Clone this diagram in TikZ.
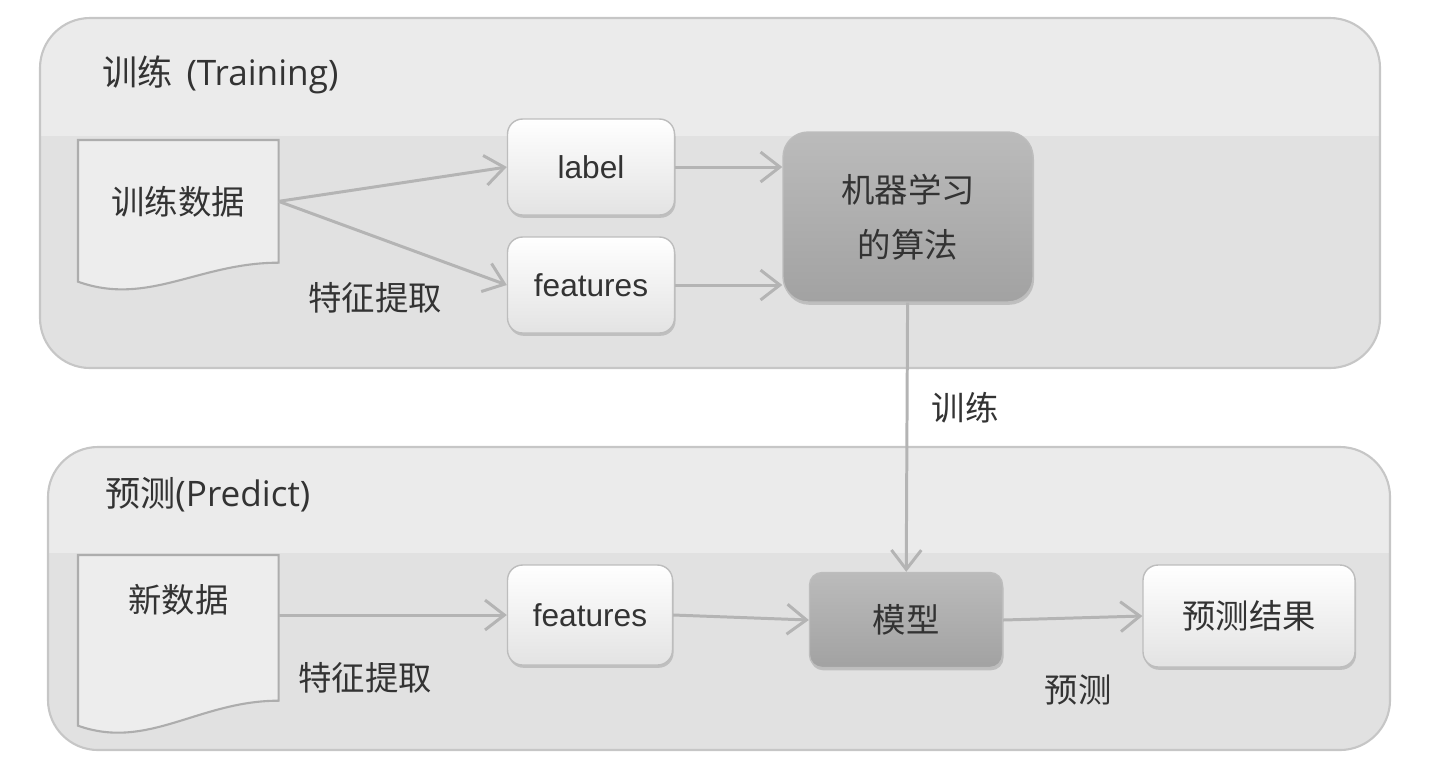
\documentclass[tikz,border=0pt]{standalone}
\usepackage{fontspec}
\setmainfont{Noto Sans CJK SC}
\newfontfamily\arialfont{Liberation Sans}
\newfontfamily\titlelatin{Open Sans}
\usepackage{xcolor}
\usepackage{tikz}
\usetikzlibrary{calc,arrows.meta,shadows}

\definecolor{panelline}{HTML}{C6C6C6}
\definecolor{panellow}{HTML}{E1E1E1}
\definecolor{panelhigh}{HTML}{EBEBEB}
\definecolor{boxline}{HTML}{BDBDBD}
\definecolor{boxlow}{HTML}{E3E3E3}
\definecolor{algotop}{HTML}{BBBBBB}
\definecolor{algobot}{HTML}{A2A2A2}
\definecolor{flowgray}{HTML}{B4B4B4}
\definecolor{textgray}{HTML}{333333}
\definecolor{docfill}{HTML}{EDEDED}
\definecolor{docline}{HTML}{ADADAD}

\pgfdeclarelayer{back}
\pgfdeclarelayer{mid}
\pgfsetlayers{back,mid,main}

\tikzset{
  cjk/.style={font=\fontsize{19}{31}\selectfont, text=textgray},
  titletext/.style={font=\fontsize{20}{24}\selectfont, text=textgray},
  panel/.style={draw=panelline, line width=1.2pt, rounded corners=1cm},
  doctext/.style={cjk, inner sep=0pt, text width=4cm, align=center},
  docline/.style={draw=docline, fill=docfill, line width=1.2pt},
  whitebox/.style={draw=boxline, line width=0.8pt, rounded corners=0.3cm,
    top color=white, bottom color=boxlow, minimum width=3.34cm, minimum height=1.92cm,
    drop shadow={shadow xshift=0.6pt, shadow yshift=-1.6pt, opacity=0.35}},
  graybox/.style={draw=boxline, line width=0.8pt, top color=algotop, bottom color=algobot,
    drop shadow={shadow xshift=0.6pt, shadow yshift=-1.6pt, opacity=0.35}},
  latin/.style={font=\arialfont\fontsize{18}{21}\selectfont, text=textgray},
  flow/.style={draw=flowgray, line width=1.7pt, -{Straight Barb[length=11pt,width=17pt,line width=1.7pt]}},
}

\begin{document}
\begin{tikzpicture}[x=0.02cm, y=-0.02cm]
\useasboundingbox (0,0) rectangle (1432,769);

% panels
\begin{pgfonlayer}{back}
\fill[panellow, rounded corners=1cm] (40,18) rectangle (1380,368);
\begin{scope}
\clip[rounded corners=1cm] (40,18) rectangle (1380,368);
\fill[panelhigh] (40,18) rectangle (1380,136);
\end{scope}
\draw[panel] (40,18) rectangle (1380,368);
\fill[panellow, rounded corners=1cm] (48,447) rectangle (1390,750);
\begin{scope}
\clip[rounded corners=1cm] (48,447) rectangle (1390,750);
\fill[panelhigh] (48,447) rectangle (1390,553);
\end{scope}
\draw[panel] (48,447) rectangle (1390,750);
\end{pgfonlayer}

\node[titletext, anchor=west] (ttrain) at (96,75) {训练\hspace{0.4em}{\titlelatin(Training)}};
\node[titletext, anchor=west] (tpred) at (99,495) {预测{\titlelatin(Predict)}};

% training
\node[doctext, anchor=north west, text height=1.48cm, text depth=0.96cm] (traindoc) at (78,140) {训练数据};
\node[whitebox, latin] (lbl) at (591,167) {label};
\node[whitebox, latin] (feat1) at (591,285) {features};
\node[graybox, cjk, rounded corners=0.5cm, minimum width=5cm, minimum height=3.4cm, align=center] (algo) at (908,217) {机器学习\\的算法};
\node[cjk] (ext1) at (375,298) {特征提取};

% predict
\node[doctext, anchor=north west, text height=1.14cm, text depth=1.76cm] (newdoc) at (78,555) {新数据};
\node[whitebox, latin, minimum width=3.3cm, minimum height=2cm] (feat2) at (590,615) {features};
\node[graybox, cjk, rounded corners=0.25cm, minimum width=3.86cm, minimum height=1.9cm] (model) at (906,620) {模型};
\node[whitebox, cjk, minimum width=4.24cm, minimum height=2.04cm] (result) at (1249,616) {预测结果};
\node[cjk] (ext2) at (365,678) {特征提取};
\node[cjk] (pred) at (1078,690) {预测};

\begin{pgfonlayer}{mid}
\draw[docline] (traindoc.north west) -- (traindoc.north east) -- (traindoc.south east)
  .. controls +(-80,0) and +(70,25) .. ($(traindoc.south west)+(0,19)$) -- cycle;
\draw[docline] (newdoc.north west) -- (newdoc.north east) -- (newdoc.south east)
  .. controls +(-80,0) and +(70,25) .. ($(newdoc.south west)+(0,25)$) -- cycle;
\end{pgfonlayer}

\draw[flow] (traindoc.east) -- (lbl.west);
\draw[flow] (traindoc.east) -- (feat1.west);
\draw[flow] (lbl.east) -- (lbl.east -| algo.west);
\draw[flow] (feat1.east) -- (feat1.east -| algo.west);
\draw[flow] (algo) -- node[cjk, pos=0.39, right=0.35cm] (trainlbl) {训练} (model);
\draw[flow] (newdoc.east |- feat2.west) -- (feat2.west);
\draw[flow] (feat2.east) -- (model.west);
\draw[flow] (model.east) -- (result.west);

\end{tikzpicture}
\end{document}
